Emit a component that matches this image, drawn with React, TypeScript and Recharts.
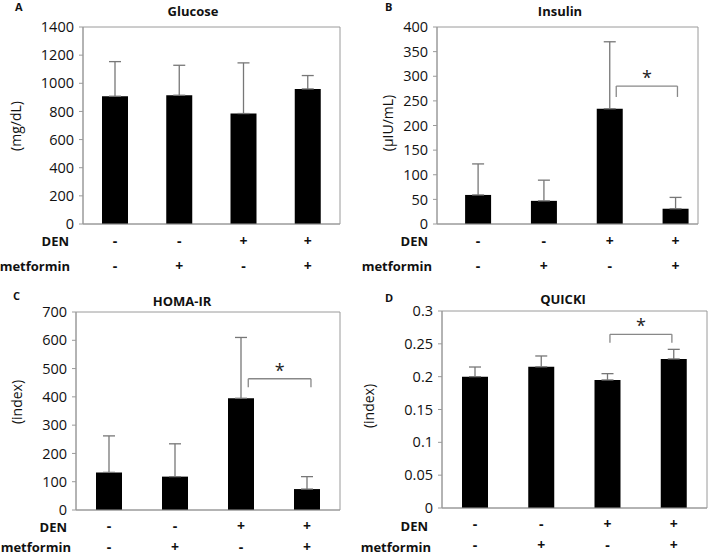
import React from 'react';
import {
  ComposedChart,
  Bar,
  ErrorBar,
  XAxis,
  YAxis,
  ReferenceArea,
  ReferenceLine,
  ReferenceDot,
} from 'recharts';

// ---------- data ----------
const groups = [1, 2, 3, 4];
const denSigns = ['-', '-', '+', '+'];
const metforminSigns = ['-', '+', '-', '+'];

const glucoseMean = [908, 915, 785, 960];
const glucoseUpper = [1154, 1128, 1145, 1055];
const glucoseTicks = [0, 200, 400, 600, 800, 1000, 1200, 1400];

const insulinMean = [59, 47, 234, 31];
const insulinUpper = [122, 89, 370, 54];
const insulinTicks = [0, 50, 100, 150, 200, 250, 300, 350, 400];
const insulinSig = { x1: 3.1, x2: 4.03, top: 280, drop: 258, star: 297 };

const homaMean = [133, 118, 395, 74];
const homaUpper = [262, 234, 610, 118];
const homaTicks = [0, 100, 200, 300, 400, 500, 600, 700];
const homaSig = { x1: 3.11, x2: 4.06, top: 464, drop: 434, star: 493 };

const quickiMean = [0.2, 0.215, 0.195, 0.227];
const quickiUpper = [0.2147, 0.2315, 0.2046, 0.2416];
const quickiTicks = [0, 0.05, 0.1, 0.15, 0.2, 0.25, 0.3];
const quickiSig = { x1: 3.035, x2: 3.97, top: 0.2645, drop: 0.2518, star: 0.278 };

const FONT = "'Open Sans', 'DejaVu Sans', sans-serif";
const GRID = '#9a9a9a';

type Sig = { x1: number; x2: number; top: number; drop: number; star: number };

const makeSignTick = (row1: number, row2: number) => (props: any) => {
  const { x, y, payload } = props;
  const i = Math.round(payload.value) - 1;
  return (
    <g>
      <text x={x} y={y + row1} textAnchor="middle" fontWeight="bold" fontSize={14} fill="#111" fontFamily={FONT}>
        {denSigns[i]}
      </text>
      <text x={x} y={y + row2} textAnchor="middle" fontWeight="bold" fontSize={14} fill="#111" fontFamily={FONT}>
        {metforminSigns[i]}
      </text>
    </g>
  );
};

const TopTick = makeSignTick(22, 47);
const BottomTick = makeSignTick(21, 42);

function Panel(props: {
  left: number;
  top: number;
  width: number;
  height: number;
  margin: { top: number; right: number; bottom: number; left: number };
  yWidth: number;
  xHeight: number;
  xDomain: [number, number];
  mean: number[];
  upper: number[];
  ticks: number[];
  sig?: Sig;
  tickComp: any;
}) {
  const { left, top, width, height, margin, yWidth, xHeight, xDomain, mean, upper, ticks, sig, tickComp } = props;
  const yMax = ticks[ticks.length - 1];
  const data = groups.map((g, i) => ({ g, mean: mean[i], err: [0, upper[i] - mean[i]] }));
  const TickComp = tickComp;
  return (
    <div style={{ position: 'absolute', left, top, width, height }}>
      <ComposedChart width={width} height={height} data={data} margin={margin} style={{ fontFamily: FONT }}>
        <ReferenceArea x1={xDomain[0]} x2={xDomain[1]} y1={0} y2={yMax} fill="none" stroke={GRID} strokeWidth={1} ifOverflow="visible" />
        <XAxis
          type="number"
          dataKey="g"
          domain={xDomain}
          ticks={groups}
          allowDataOverflow
          height={xHeight}
          axisLine={{ stroke: GRID }}
          tickLine={false}
          tickSize={0}
          tickMargin={0}
          tick={<TickComp />}
        />
        <YAxis
          type="number"
          domain={[0, yMax]}
          ticks={ticks}
          width={yWidth}
          axisLine={{ stroke: GRID }}
          tickLine={{ stroke: GRID }}
          tickSize={4}
          tickMargin={5}
          interval={0}
          tick={{ fontSize: 14.5, fill: '#111', fontFamily: FONT }}
        />
        <Bar dataKey="mean" fill="#000" barSize={26} isAnimationActive={false}>
          <ErrorBar dataKey="err" width={6} stroke="#777" strokeWidth={1.3} direction="y" isAnimationActive={false} />
        </Bar>
        {sig && (
          <ReferenceLine segment={[{ x: sig.x1, y: sig.top }, { x: sig.x2, y: sig.top }]} stroke="#888" strokeWidth={1.3} />
        )}
        {sig && (
          <ReferenceLine segment={[{ x: sig.x1, y: sig.top }, { x: sig.x1, y: sig.drop }]} stroke="#888" strokeWidth={1.3} />
        )}
        {sig && (
          <ReferenceLine segment={[{ x: sig.x2, y: sig.top }, { x: sig.x2, y: sig.drop }]} stroke="#888" strokeWidth={1.3} />
        )}
        {sig && (
          <ReferenceDot
            x={(sig.x1 + sig.x2) / 2}
            y={sig.star}
            r={0}
            fill="none"
            stroke="none"
            label={{ value: '*', position: 'center', fontSize: 18, fill: '#222', fontFamily: FONT }}
          />
        )}
      </ComposedChart>
    </div>
  );
}

export default function App() {
  const bold = { fontFamily: FONT, fontWeight: 'bold' as const, fill: '#111' };
  const norm = { fontFamily: FONT, fill: '#111' };
  return (
    <div style={{ position: 'absolute', left: 0, top: 0, width: 711, height: 557, background: '#fff', fontFamily: FONT }}>
      <Panel
        left={0}
        top={0}
        width={355}
        height={280}
        margin={{ top: 27, right: 15, bottom: 6, left: 0 }}
        yWidth={83}
        xHeight={50}
        xDomain={[0.5, 4.5]}
        mean={glucoseMean}
        upper={glucoseUpper}
        ticks={glucoseTicks}
        tickComp={TopTick}
      />
      <Panel
        left={355}
        top={0}
        width={356}
        height={280}
        margin={{ top: 27, right: 13, bottom: 6, left: 0 }}
        yWidth={82}
        xHeight={50}
        xDomain={[0.377, 4.342]}
        mean={insulinMean}
        upper={insulinUpper}
        ticks={insulinTicks}
        sig={insulinSig}
        tickComp={TopTick}
      />
      <Panel
        left={0}
        top={280}
        width={355}
        height={277}
        margin={{ top: 32, right: 15, bottom: 7, left: 0 }}
        yWidth={76}
        xHeight={40}
        xDomain={[0.5, 4.5]}
        mean={homaMean}
        upper={homaUpper}
        ticks={homaTicks}
        sig={homaSig}
        tickComp={BottomTick}
      />
      <Panel
        left={355}
        top={280}
        width={356}
        height={277}
        margin={{ top: 31, right: 4, bottom: 9, left: 0 }}
        yWidth={87}
        xHeight={40}
        xDomain={[0.5, 4.5]}
        mean={quickiMean}
        upper={quickiUpper}
        ticks={quickiTicks}
        sig={quickiSig}
        tickComp={BottomTick}
      />
      <svg width={711} height={557} style={{ position: 'absolute', left: 0, top: 0, pointerEvents: 'none' }}>
        {/* panel letters */}
        <text x={15} y={11} fontSize={11} {...bold}>A</text>
        <text x={385} y={11} fontSize={11} {...bold}>B</text>
        <text x={13} y={300} fontSize={11} {...bold}>C</text>
        <text x={385} y={302} fontSize={11} {...bold}>D</text>
        {/* titles */}
        <text x={193} y={16} fontSize={13} textAnchor="middle" {...bold}>Glucose</text>
        <text x={560} y={16} fontSize={13} textAnchor="middle" {...bold}>Insulin</text>
        <text x={182} y={306} fontSize={13} textAnchor="middle" {...bold}>HOMA-IR</text>
        <text x={563} y={304} fontSize={13} textAnchor="middle" {...bold}>QUICKI</text>
        {/* y labels */}
        <text x={15} y={126} fontSize={14} textAnchor="middle" dominantBaseline="central" transform="rotate(-90 15 126)" {...norm}>(mg/dL)</text>
        <text x={387} y={123} fontSize={14} textAnchor="middle" dominantBaseline="central" transform="rotate(-90 387 123)" {...norm}>(µIU/mL)</text>
        <text x={16} y={402} fontSize={14} textAnchor="middle" dominantBaseline="central" transform="rotate(-90 16 402)" {...norm}>(index)</text>
        <text x={368} y={406} fontSize={14} textAnchor="middle" dominantBaseline="central" transform="rotate(-90 368 406)" {...norm}>(index)</text>
        {/* row labels */}
        <text x={69} y={246} fontSize={13} textAnchor="end" {...bold}>DEN</text>
        <text x={70} y={271} fontSize={13} textAnchor="end" {...bold}>metformin</text>
        <text x={428} y={246} fontSize={13} textAnchor="end" {...bold}>DEN</text>
        <text x={432} y={271} fontSize={13} textAnchor="end" {...bold}>metformin</text>
        <text x={67} y={532} fontSize={13} textAnchor="end" {...bold}>DEN</text>
        <text x={71} y={552} fontSize={13} textAnchor="end" {...bold}>metformin</text>
        <text x={428} y={531} fontSize={13} textAnchor="end" {...bold}>DEN</text>
        <text x={431} y={552} fontSize={13} textAnchor="end" {...bold}>metformin</text>
      </svg>
    </div>
  );
}
